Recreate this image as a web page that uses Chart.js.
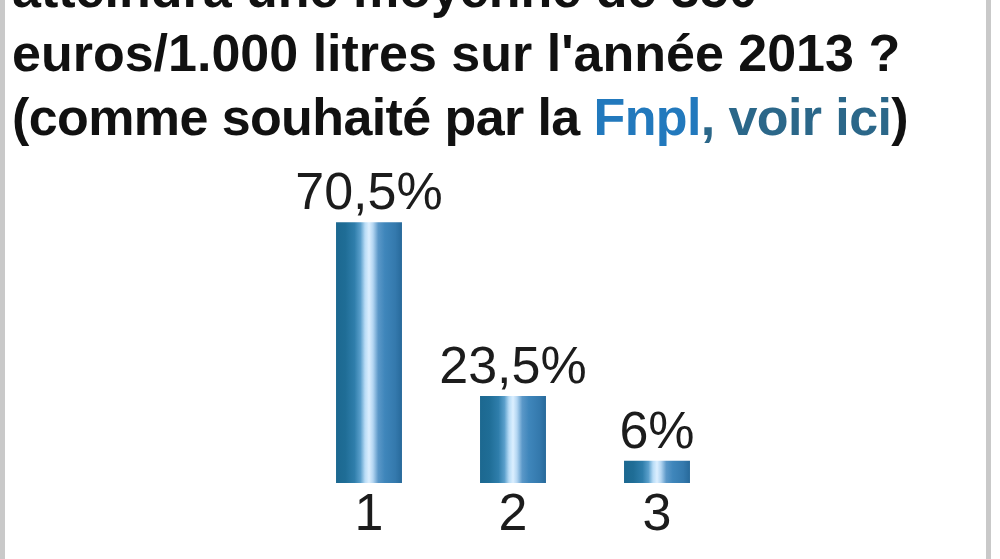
<!DOCTYPE html>
<html>
<head>
<meta charset="utf-8">
<script src="https://cdn.jsdelivr.net/npm/chart.js@4/dist/chart.umd.min.js"></script>
<style>
  html, body { margin: 0; padding: 0; background: #ffffff; }
  #wrap { position: relative; width: 1000px; height: 559px; overflow: hidden; background: #fff; }
  #chartBox { position: absolute; left: 0; top: 0; width: 1000px; height: 559px; }
  #title {
    position: absolute; left: 12px; top: -43px; margin: 0;
    font-family: "Liberation Sans", Arial, sans-serif; font-weight: bold;
    font-size: 52px; line-height: 64px; color: #111; white-space: nowrap;
  }
  #title .narrow { letter-spacing: -0.6px; }
  #title .l1 { color: #2279bd; }
  #title .l2 { color: #2b6789; }
  .edge { position: absolute; top: 0; width: 5px; height: 559px; background: #c9c9c9; }
</style>
</head>
<body>
<div id="wrap">
  <div id="chartBox"><canvas id="c"></canvas></div>
  <div id="title">atteindra une moyenne de 350<br>euros/1.000 litres sur l'année 2013 ?<br><span class="narrow">(comme souhaité par la <span class="l1">Fnpl</span><span class="l2">, voir ici</span>)</span></div>
  <div class="edge" style="left:0"></div>
  <div class="edge" style="left:986px"></div>
</div>
<script>
// ---- data ----
const categories = ['1', '2', '3'];
const percentages = [70.5, 23.5, 6];
const yMax = 80;

// ---- styles ----
const BAR_PCT = 0.458;
const FONT = '"Liberation Sans", Arial, sans-serif';
const gradientStops = [
  [0.00, '#1c6890'],
  [0.14, '#1f6d96'],
  [0.28, '#2f7eab'],
  [0.37, '#5a9fcb'],
  [0.44, '#b8dcf6'],
  [0.50, '#dcefff'],
  [0.56, '#b4d6f2'],
  [0.64, '#5b98c8'],
  [0.74, '#3f86bb'],
  [0.90, '#3479ad'],
  [1.00, '#27699a']
];

function barGradient(ctx) {
  const chart = ctx.chart;
  const xs = chart.scales && chart.scales.x;
  if (!chart.chartArea || !xs) return '#2a78a8';
  const cx = xs.getPixelForValue(ctx.dataIndex);
  const half = xs.width / chart.data.labels.length * BAR_PCT / 2;
  const g = chart.ctx.createLinearGradient(cx - half, 0, cx + half, 0);
  gradientStops.forEach(s => g.addColorStop(s[0], s[1]));
  return g;
}

const valueLabels = {
  id: 'valueLabels',
  afterDatasetsDraw(chart) {
    const ctx = chart.ctx;
    const meta = chart.getDatasetMeta(0);
    ctx.save();
    ctx.font = '52px ' + FONT;
    ctx.fillStyle = '#1c1c1c';
    ctx.textAlign = 'center';
    ctx.textBaseline = 'alphabetic';
    meta.data.forEach((el, i) => {
      const v = chart.data.datasets[0].data[i];
      const txt = String(v).replace('.', ',') + '%';
      ctx.fillText(txt, el.x, el.y - 13);
    });
    ctx.restore();
  }
};

new Chart(document.getElementById('c'), {
  type: 'bar',
  data: {
    labels: categories,
    datasets: [{
      data: percentages,
      backgroundColor: barGradient,
      borderWidth: 0,
      barPercentage: BAR_PCT,
      categoryPercentage: 1
    }]
  },
  options: {
    responsive: true,
    maintainAspectRatio: false,
    devicePixelRatio: 1,
    animation: false,
    layout: { padding: { left: 297, right: 271, top: 187, bottom: 10 } },
    plugins: { legend: { display: false }, title: { display: false }, tooltip: { enabled: false } },
    scales: {
      x: {
        grid: { display: false, drawTicks: false },
        border: { display: false },
        ticks: {
          color: '#1c1c1c',
          padding: 7,
          maxRotation: 0,
          font: { family: FONT, size: 52, lineHeight: 1 }
        }
      },
      y: {
        display: false,
        min: 0,
        max: yMax
      }
    }
  },
  plugins: [valueLabels]
});
</script>
</body>
</html>
